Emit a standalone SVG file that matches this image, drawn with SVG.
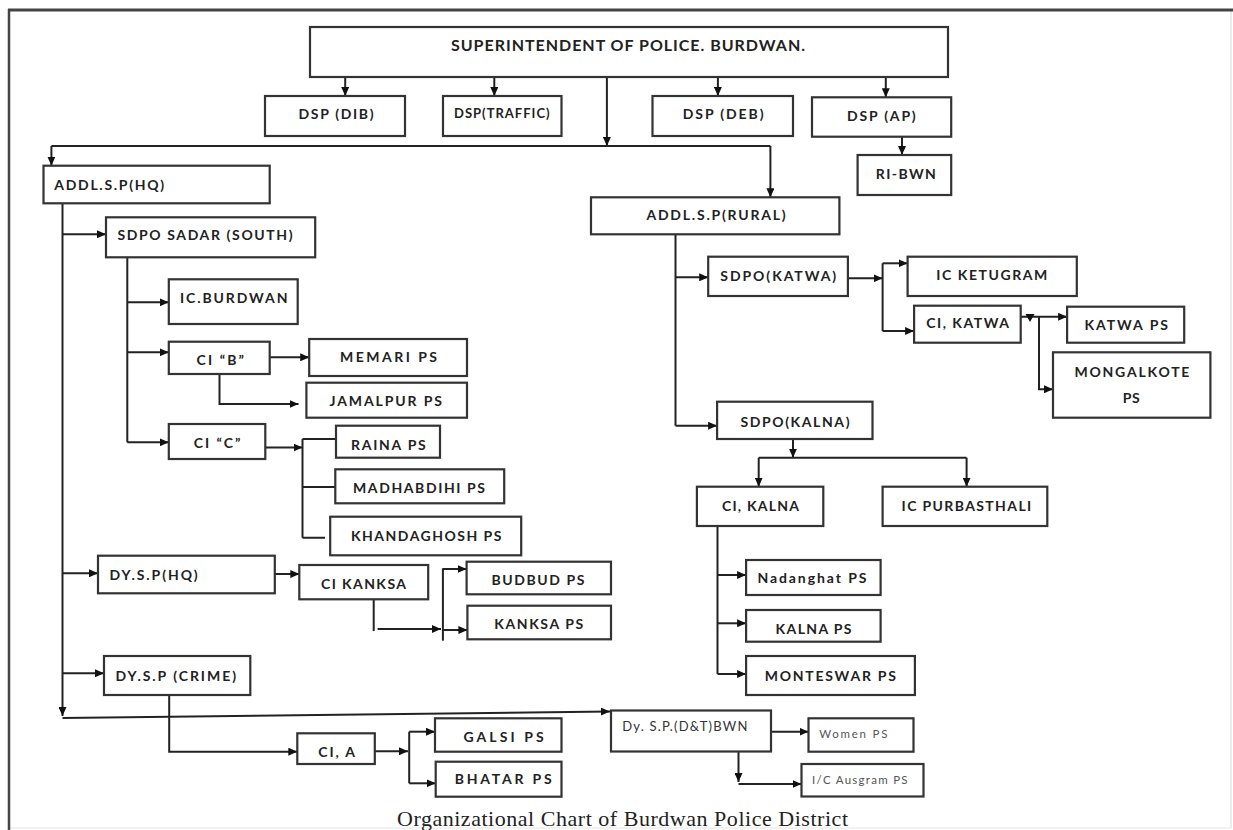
<svg xmlns="http://www.w3.org/2000/svg" width="1233" height="830" viewBox="0 0 1233 830">
<style>
.box{fill:#fff;stroke:#333;stroke-width:2.2}
.t{font-family:Lato,"Liberation Sans",Arial,sans-serif;font-weight:bold;font-size:14px;fill:#222}
.s{font-family:Lato,"Liberation Sans",Arial,sans-serif;font-weight:normal;font-size:13px;fill:#333}
.xs{font-family:Lato,"Liberation Sans",Arial,sans-serif;font-weight:normal;font-size:11.5px;fill:#555}
.c{fill:none;stroke:#222;stroke-width:2}
.a{marker-end:url(#ah)}
.cap{font-family:"Liberation Serif","Times New Roman",serif;font-size:22px;fill:#222}
</style>
<defs>
<marker id="ah" markerUnits="userSpaceOnUse" markerWidth="9" markerHeight="8" refX="9" refY="4" orient="auto">
<path d="M0,0 L9,4 L0,8 z" fill="#111"/>
</marker>
</defs>
<rect width="1233" height="830" fill="#fff"/>
<g id="frame">
<line x1="1231" y1="10" x2="1231" y2="828" stroke="#e6e6e6" stroke-width="1.5"/>
<line x1="9" y1="828" x2="1231" y2="828" stroke="#eeeeee" stroke-width="1.5"/>
<line x1="8" y1="10" x2="1233" y2="10" stroke="#444" stroke-width="3"/>
<line x1="9" y1="9" x2="9" y2="830" stroke="#444" stroke-width="2.5"/>
</g>
<g id="connectors">
<path class="c a" d="M345.2,77 V96"/>
<path class="c a" d="M494.3,77 V96"/>
<path class="c a" d="M717.9,77 V96"/>
<path class="c a" d="M885.8,77 V97.3"/>
<path class="c a" d="M902,136.7 V155"/>
<path class="c a" d="M606.9,77 V146"/>
<path class="c" d="M51.4,146 H770.4"/>
<path class="c a" d="M51.4,146 V165.7"/>
<path class="c a" d="M770.4,146 V197.3"/>
<path class="c a" d="M62.5,203.3 V716"/>
<path class="c a" d="M62.5,718 L610,711.5"/>
<path class="c a" d="M62.5,234.3 H106"/>
<path class="c a" d="M62.5,573.3 H98"/>
<path class="c a" d="M62.5,673.3 H104"/>
<path class="c" d="M127.3,257.3 V442.3"/>
<path class="c a" d="M127.3,302.3 H168.8"/>
<path class="c a" d="M127.3,352.3 H168.8"/>
<path class="c a" d="M127.3,442.3 H168.8"/>
<path class="c a" d="M269.7,357.3 H309.2"/>
<path class="c a" d="M219.5,374 V404 H298.5"/>
<path class="c a" d="M265.3,447.5 H302.5"/>
<path class="c" d="M302.5,439 V537.7 M302.5,439 H336 M302.5,487 H335.3 M302.5,537.7 H325"/>
<path class="c a" d="M274.8,574 H299.3"/>
<path class="c" d="M373.7,599.3 V631"/>
<path class="c a" d="M377.6,629 H441"/>
<path class="c" d="M442.9,568.3 V640.7"/>
<path class="c a" d="M442.9,569 H466.6"/>
<path class="c a" d="M442.9,630 H467.4"/>
<path class="c a" d="M169.2,695 V751.7 H297.3"/>
<path class="c a" d="M374.8,751.3 H408"/>
<path class="c" d="M409.2,731.7 V783.3"/>
<path class="c a" d="M409.2,731.7 H435"/>
<path class="c a" d="M409.2,783.3 H435.7"/>
<path class="c" d="M675.5,234.3 V425.7"/>
<path class="c a" d="M675.5,277.3 H708.2"/>
<path class="c a" d="M675.5,425.7 H717.1"/>
<path class="c a" d="M847.9,278.3 H882.6"/>
<path class="c" d="M882.6,263.3 V331"/>
<path class="c a" d="M882.6,263.3 H907.6"/>
<path class="c a" d="M882.6,331 H914.1"/>
<path class="c a" d="M1020.7,316.7 H1067.1"/>
<path d="M1025.5,314 L1034.5,314 L1030,322 z" fill="#111"/>
<path class="c a" d="M1039,316.7 V389.3 H1053"/>
<path class="c a" d="M793,439 V457.7"/>
<path class="c" d="M758.7,457.7 H966.6"/>
<path class="c a" d="M758.7,457.7 V486.7"/>
<path class="c a" d="M966.6,457.7 V486.7"/>
<path class="c" d="M717.5,526 V674"/>
<path class="c a" d="M717.5,575 H746.1"/>
<path class="c a" d="M717.5,623.3 H746.1"/>
<path class="c a" d="M717.5,674 H746.1"/>
<path class="c a" d="M770.8,731.7 H808.5"/>
<path class="c a" d="M738.5,751.7 V782"/>
<path class="c a" d="M738.5,784 H801.5"/>
</g>
<g id="sp"><rect class="box" x="310" y="27" width="638" height="50"/><text class="t" style="font-size:16px" x="451" y="51" textLength="354">SUPERINTENDENT OF POLICE. BURDWAN.</text></g>
<g id="dsp_dib"><rect class="box" x="265" y="96" width="140" height="40"/><text class="t" x="298.5" y="119" textLength="75">DSP (DIB)</text></g>
<g id="dsp_traffic"><rect class="box" x="443" y="96" width="118.5" height="40"/><text class="t" style="font-size:13px" x="454" y="117.8" textLength="95.6">DSP(TRAFFIC)</text></g>
<g id="dsp_deb"><rect class="box" x="652.5" y="96" width="140.5" height="40"/><text class="t" x="682.8" y="119" textLength="80.7">DSP (DEB)</text></g>
<g id="dsp_ap"><rect class="box" x="812" y="97.3" width="139.2" height="39.4"/><text class="t" x="847" y="120.7" textLength="68.7">DSP (AP)</text></g>
<g id="ri_bwn"><rect class="box" x="857.6" y="155" width="93.6" height="40"/><text class="t" x="875.7" y="179" textLength="60.2">RI-BWN</text></g>
<g id="addl_hq"><rect class="box" x="43.5" y="165.7" width="226.2" height="37.6"/><text class="t" x="54.2" y="190" textLength="109.8">ADDL.S.P(HQ)</text></g>
<g id="addl_rural"><rect class="box" x="591" y="197.3" width="248.4" height="37"/><text class="t" x="646.4" y="220" textLength="139.3">ADDL.S.P(RURAL)</text></g>
<g id="sdpo_sadar"><rect class="box" x="106" y="217.3" width="209.2" height="40"/><text class="t" x="117.4" y="240" textLength="175.2">SDPO SADAR (SOUTH)</text></g>
<g id="ic_burdwan"><rect class="box" x="168.8" y="279.3" width="128.9" height="44.7"/><text class="t" x="180" y="303.3" textLength="107.5">IC.BURDWAN</text></g>
<g id="ci_b"><rect class="box" x="168.8" y="341.7" width="100.9" height="32.3"/><text class="t" x="196.5" y="365" textLength="47.5">CI “B”</text></g>
<g id="memari"><rect class="box" x="309.2" y="339" width="157.8" height="37"/><text class="t" x="340" y="362.3" textLength="97">MEMARI PS</text></g>
<g id="jamalpur"><rect class="box" x="306.4" y="382.7" width="160.6" height="35"/><text class="t" x="329.4" y="406" textLength="112.6">JAMALPUR PS</text></g>
<g id="ci_c"><rect class="box" x="168.8" y="424" width="96.5" height="35"/><text class="t" x="193.7" y="447.7" textLength="46.7">CI “C”</text></g>
<g id="raina"><rect class="box" x="336" y="425.7" width="104" height="32"/><text class="t" x="351" y="450" textLength="74.8">RAINA PS</text></g>
<g id="madhabdihi"><rect class="box" x="335.3" y="469.3" width="168.9" height="34"/><text class="t" x="353" y="493.3" textLength="132">MADHABDIHI PS</text></g>
<g id="khandaghosh"><rect class="box" x="330.2" y="516.7" width="191" height="38.6"/><text class="t" x="351" y="540.7" textLength="150.4">KHANDAGHOSH PS</text></g>
<g id="dysp_hq"><rect class="box" x="98" y="555.7" width="176.8" height="37.6"/><text class="t" x="109.5" y="580" textLength="88.2">DY.S.P(HQ)</text></g>
<g id="ci_kanksa"><rect class="box" x="299.3" y="565" width="128.9" height="34.3"/><text class="t" x="321" y="589.3" textLength="85">CI KANKSA</text></g>
<g id="budbud"><rect class="box" x="466.6" y="561.7" width="144.4" height="32.6"/><text class="t" x="491.5" y="585" textLength="92.9">BUDBUD PS</text></g>
<g id="kanksa_ps"><rect class="box" x="467.4" y="605.7" width="143.6" height="33.6"/><text class="t" x="494.3" y="629" textLength="88.9">KANKSA PS</text></g>
<g id="dysp_crime"><rect class="box" x="104" y="656" width="146.3" height="39"/><text class="t" x="115.5" y="681" textLength="120.5">DY.S.P (CRIME)</text></g>
<g id="ci_a"><rect class="box" x="297.3" y="733.3" width="77.5" height="30.7"/><text class="t" x="318.3" y="756.7" textLength="36.7">CI, A</text></g>
<g id="galsi"><rect class="box" x="435" y="718.3" width="126.5" height="33.4"/><text class="t" x="463.4" y="741.7" textLength="80.3">GALSI PS</text></g>
<g id="bhatar"><rect class="box" x="435.7" y="761.7" width="125.8" height="35"/><text class="t" x="454.7" y="784.3" textLength="97">BHATAR PS</text></g>
<g id="sdpo_katwa"><rect class="box" x="708.2" y="256.7" width="139.7" height="39.3"/><text class="t" x="720.3" y="281" textLength="115.9">SDPO(KATWA)</text></g>
<g id="ic_ketugram"><rect class="box" x="907.6" y="256.7" width="169.2" height="39.3"/><text class="t" x="936.3" y="280" textLength="111">IC KETUGRAM</text></g>
<g id="ci_katwa"><rect class="box" x="914.1" y="305.7" width="106.6" height="37"/><text class="t" x="926.2" y="328.3" textLength="82.8">CI, KATWA</text></g>
<g id="katwa_ps"><rect class="box" x="1067.1" y="306.7" width="117.1" height="36"/><text class="t" x="1084.5" y="330" textLength="83.5">KATWA PS</text></g>
<g id="mongalkote"><rect class="box" x="1053" y="352.3" width="157.4" height="65.4"/><text class="t" x="1074.4" y="376.7" textLength="115">MONGALKOTE</text><text class="t" x="1122.8" y="402.7" textLength="17">PS</text></g>
<g id="sdpo_kalna"><rect class="box" x="717.1" y="401.7" width="155.4" height="37.3"/><text class="t" x="740.5" y="426.7" textLength="109">SDPO(KALNA)</text></g>
<g id="ci_kalna"><rect class="box" x="696.9" y="486.7" width="126.4" height="39.3"/><text class="t" x="721.9" y="511" textLength="77.1">CI, KALNA</text></g>
<g id="ic_purbasthali"><rect class="box" x="882.6" y="486.7" width="164.7" height="39.3"/><text class="t" x="901.6" y="511" textLength="129.6">IC PURBASTHALI</text></g>
<g id="nadanghat"><rect class="box" x="746.1" y="560" width="134.5" height="35"/><text class="t" x="757.4" y="583.3" textLength="109.1">Nadanghat PS</text></g>
<g id="kalna_ps"><rect class="box" x="746.1" y="610" width="134.5" height="31.7"/><text class="t" x="775.6" y="634.3" textLength="75.9">KALNA PS</text></g>
<g id="monteswar"><rect class="box" x="746.1" y="656" width="168.8" height="39"/><text class="t" x="764.7" y="681" textLength="131.2">MONTESWAR PS</text></g>
<g id="dysp_dt"><rect class="box" x="611" y="710.5" width="160" height="41"/><text class="s" x="622.2" y="730.8" textLength="125.2">Dy. S.P.(D&amp;T)BWN</text></g>
<g id="women_ps"><rect class="box" x="808.5" y="718.3" width="105" height="33.4"/><text class="xs" x="819.2" y="738.2" textLength="68.2">Women PS</text></g>
<g id="ausgram_ps"><rect class="box" x="801.5" y="764" width="122" height="32.5"/><text class="xs" x="812" y="784.2" textLength="95.6">I/C Ausgram PS</text></g>
<text class="cap" x="397" y="826" textLength="451">Organizational Chart of Burdwan Police District</text>
</svg>
